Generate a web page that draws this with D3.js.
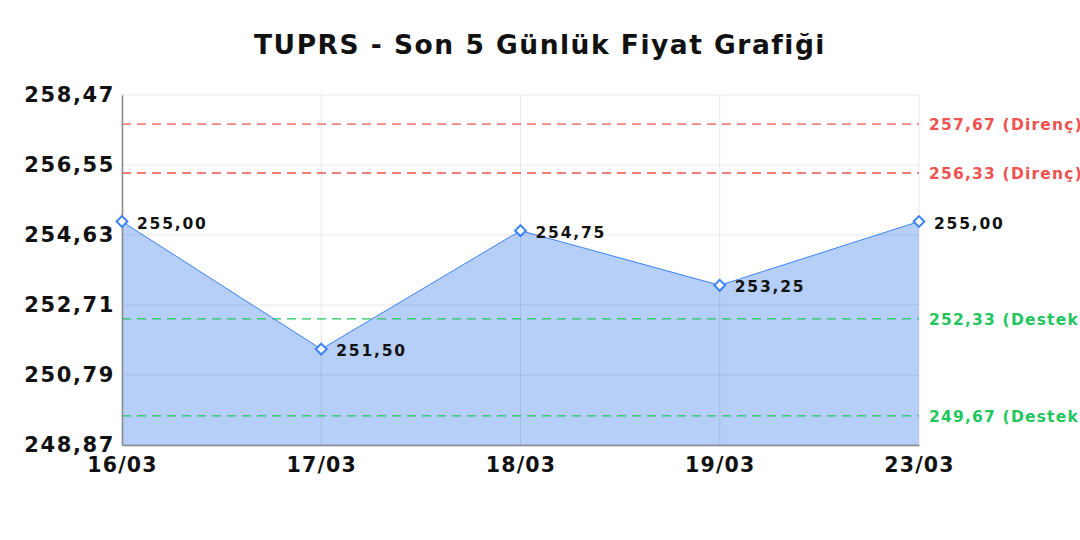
<!DOCTYPE html>
<html>
<head>
<meta charset="utf-8">
<script src="https://cdn.jsdelivr.net/npm/d3@7"></script>
<style>
  body { margin: 0; background: #fff; }
  text { font-family: "DejaVu Sans", sans-serif; }
</style>
</head>
<body>
<div id="chart"></div>
<script>
const dates = ["16/03", "17/03", "18/03", "19/03", "23/03"];
const prices = [255.00, 251.50, 254.75, 253.25, 255.00];
const yTicks = [248.87, 250.79, 252.71, 254.63, 256.55, 258.47];
const resistance = [257.67, 256.33];
const support = [252.33, 249.67];

const w = 1080;
const h = 540;
const margin = { top: 95, right: 161, bottom: 95, left: 122 };

const fmt = v => v.toFixed(2).replace(".", ",");

const svg = d3.select("#chart")
  .append("svg")
  .attr("width", w)
  .attr("height", h);

const x = d3.scalePoint()
  .domain(dates)
  .range([margin.left, w - margin.right]);

const y = d3.scaleLinear()
  .domain([yTicks[0], yTicks[yTicks.length - 1]])
  .range([h - margin.bottom, margin.top]);

const data = dates.map((d, i) => ({ date: d, price: prices[i] }));

// area + line
svg.append("path")
  .datum(data)
  .attr("fill", "#b6cff8")
  .attr("d", d3.area().x(d => x(d.date)).y0(y(yTicks[0])).y1(d => y(d.price)));

// grid
svg.append("g")
  .selectAll("line")
  .data(yTicks)
  .join("line")
  .attr("x1", margin.left).attr("x2", w - margin.right)
  .attr("y1", d => y(d)).attr("y2", d => y(d))
  .attr("stroke", "rgba(0,0,0,0.09)");

svg.append("g")
  .selectAll("line")
  .data(dates)
  .join("line")
  .attr("x1", d => x(d)).attr("x2", d => x(d))
  .attr("y1", margin.top).attr("y2", h - margin.bottom)
  .attr("stroke", "rgba(0,0,0,0.09)");

// support / resistance lines
const levels = resistance.map(v => ({ v, label: "(Direnç)", color: "#ef5350" }))
  .concat(support.map(v => ({ v, label: "(Destek)", color: "#22c55e" })));

svg.append("g")
  .selectAll("line")
  .data(levels)
  .join("line")
  .attr("x1", margin.left).attr("x2", w - margin.right)
  .attr("y1", d => y(d.v)).attr("y2", d => y(d.v))
  .attr("stroke", d => d.color)
  .attr("stroke-width", 1.3)
  .attr("stroke-dasharray", "9,6");

svg.append("g")
  .selectAll("text")
  .data(levels)
  .join("text")
  .attr("x", w - margin.right + 10)
  .attr("y", d => y(d.v) + 6)
  .attr("fill", d => d.color)
  .attr("font-size", 15.5)
  .attr("font-weight", "bold")
  .attr("letter-spacing", 1.2)
  .text(d => fmt(d.v) + " " + d.label);

svg.append("path")
  .datum(data)
  .attr("fill", "none")
  .attr("stroke", "#3b82f6")
  .attr("stroke-width", 1)
  .attr("d", d3.line().x(d => x(d.date)).y(d => y(d.price)));

// axes
const xAxis = svg.append("g")
  .attr("transform", `translate(0,${h - margin.bottom})`)
  .call(d3.axisBottom(x).tickSize(0).tickPadding(12));
xAxis.select(".domain").attr("stroke", "#888").attr("stroke-width", 1.5);
xAxis.selectAll("text")
  .attr("font-size", 20.5).attr("font-weight", "bold").attr("fill", "#111")
  .attr("letter-spacing", 1.2)
  .attr("font-family", "DejaVu Sans");

const yAxis = svg.append("g")
  .attr("transform", `translate(${margin.left},0)`)
  .call(d3.axisLeft(y).tickValues(yTicks).tickSize(0).tickPadding(7).tickFormat(fmt));
yAxis.select(".domain").attr("stroke", "#888").attr("stroke-width", 1.5);
yAxis.selectAll("text")
  .attr("font-size", 21).attr("font-weight", "bold").attr("fill", "#111")
  .attr("letter-spacing", 1.6)
  .attr("font-family", "DejaVu Sans");

// markers
svg.append("g")
  .selectAll("path")
  .data(data)
  .join("path")
  .attr("transform", d => `translate(${x(d.date)},${y(d.price)})`)
  .attr("d", d3.symbol(d3.symbolDiamond2, 75))
  .attr("fill", "#fff")
  .attr("stroke", "#3b82f6")
  .attr("stroke-width", 2);

// value labels
svg.append("g")
  .selectAll("text")
  .data(data)
  .join("text")
  .attr("x", d => x(d.date) + 15)
  .attr("y", d => y(d.price) + 7)
  .attr("font-size", 15.5)
  .attr("font-weight", "bold")
  .attr("letter-spacing", 1.8)
  .attr("fill", "#111")
  .text(d => fmt(d.price));

// title
svg.append("text")
  .attr("x", w / 2)
  .attr("y", 54)
  .attr("text-anchor", "middle")
  .attr("font-size", 26.5)
  .attr("font-weight", "bold")
  .attr("letter-spacing", 1.5)
  .attr("fill", "#111")
  .text("TUPRS - Son 5 Günlük Fiyat Grafiği");
</script>
</body>
</html>
